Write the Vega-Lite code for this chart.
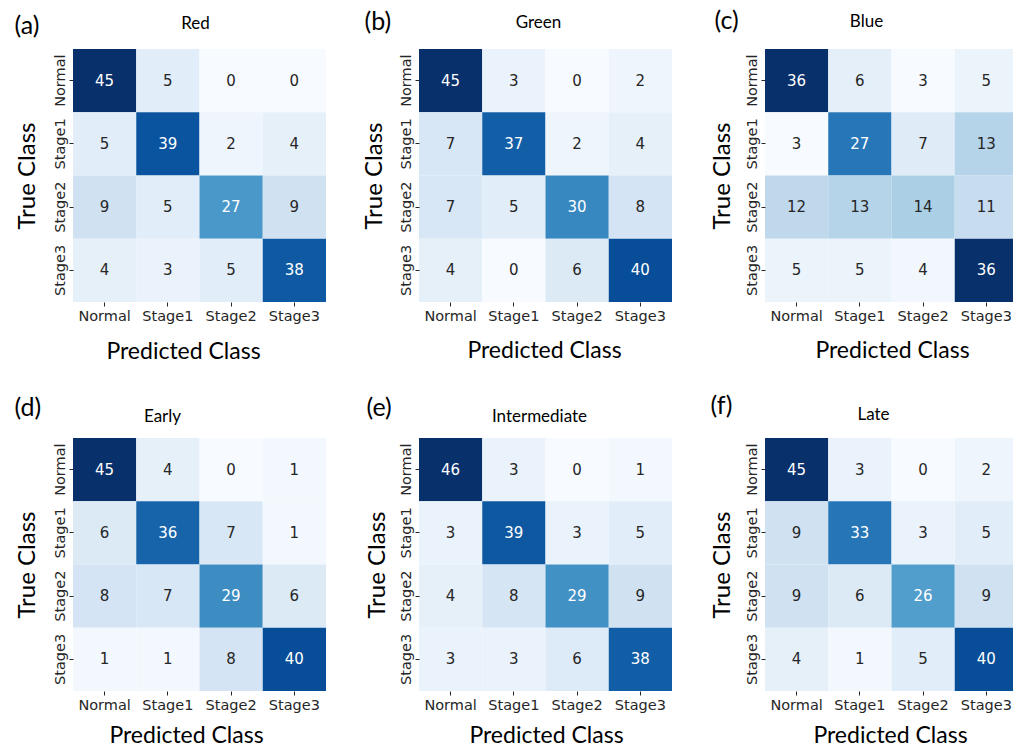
{
  "$schema": "https://vega.github.io/schema/vega-lite/v6.json",
  "background": "white",
  "padding": {"left": 13, "top": 8, "right": 0, "bottom": 0},
  "datasets": {
    "a": [
      {"t":"Normal","pr":"Normal","v":45},{"t":"Normal","pr":"Stage1","v":5},{"t":"Normal","pr":"Stage2","v":0},{"t":"Normal","pr":"Stage3","v":0},
      {"t":"Stage1","pr":"Normal","v":5},{"t":"Stage1","pr":"Stage1","v":39},{"t":"Stage1","pr":"Stage2","v":2},{"t":"Stage1","pr":"Stage3","v":4},
      {"t":"Stage2","pr":"Normal","v":9},{"t":"Stage2","pr":"Stage1","v":5},{"t":"Stage2","pr":"Stage2","v":27},{"t":"Stage2","pr":"Stage3","v":9},
      {"t":"Stage3","pr":"Normal","v":4},{"t":"Stage3","pr":"Stage1","v":3},{"t":"Stage3","pr":"Stage2","v":5},{"t":"Stage3","pr":"Stage3","v":38}
    ],
    "b": [
      {"t":"Normal","pr":"Normal","v":45},{"t":"Normal","pr":"Stage1","v":3},{"t":"Normal","pr":"Stage2","v":0},{"t":"Normal","pr":"Stage3","v":2},
      {"t":"Stage1","pr":"Normal","v":7},{"t":"Stage1","pr":"Stage1","v":37},{"t":"Stage1","pr":"Stage2","v":2},{"t":"Stage1","pr":"Stage3","v":4},
      {"t":"Stage2","pr":"Normal","v":7},{"t":"Stage2","pr":"Stage1","v":5},{"t":"Stage2","pr":"Stage2","v":30},{"t":"Stage2","pr":"Stage3","v":8},
      {"t":"Stage3","pr":"Normal","v":4},{"t":"Stage3","pr":"Stage1","v":0},{"t":"Stage3","pr":"Stage2","v":6},{"t":"Stage3","pr":"Stage3","v":40}
    ],
    "c": [
      {"t":"Normal","pr":"Normal","v":36},{"t":"Normal","pr":"Stage1","v":6},{"t":"Normal","pr":"Stage2","v":3},{"t":"Normal","pr":"Stage3","v":5},
      {"t":"Stage1","pr":"Normal","v":3},{"t":"Stage1","pr":"Stage1","v":27},{"t":"Stage1","pr":"Stage2","v":7},{"t":"Stage1","pr":"Stage3","v":13},
      {"t":"Stage2","pr":"Normal","v":12},{"t":"Stage2","pr":"Stage1","v":13},{"t":"Stage2","pr":"Stage2","v":14},{"t":"Stage2","pr":"Stage3","v":11},
      {"t":"Stage3","pr":"Normal","v":5},{"t":"Stage3","pr":"Stage1","v":5},{"t":"Stage3","pr":"Stage2","v":4},{"t":"Stage3","pr":"Stage3","v":36}
    ],
    "d": [
      {"t":"Normal","pr":"Normal","v":45},{"t":"Normal","pr":"Stage1","v":4},{"t":"Normal","pr":"Stage2","v":0},{"t":"Normal","pr":"Stage3","v":1},
      {"t":"Stage1","pr":"Normal","v":6},{"t":"Stage1","pr":"Stage1","v":36},{"t":"Stage1","pr":"Stage2","v":7},{"t":"Stage1","pr":"Stage3","v":1},
      {"t":"Stage2","pr":"Normal","v":8},{"t":"Stage2","pr":"Stage1","v":7},{"t":"Stage2","pr":"Stage2","v":29},{"t":"Stage2","pr":"Stage3","v":6},
      {"t":"Stage3","pr":"Normal","v":1},{"t":"Stage3","pr":"Stage1","v":1},{"t":"Stage3","pr":"Stage2","v":8},{"t":"Stage3","pr":"Stage3","v":40}
    ],
    "e": [
      {"t":"Normal","pr":"Normal","v":46},{"t":"Normal","pr":"Stage1","v":3},{"t":"Normal","pr":"Stage2","v":0},{"t":"Normal","pr":"Stage3","v":1},
      {"t":"Stage1","pr":"Normal","v":3},{"t":"Stage1","pr":"Stage1","v":39},{"t":"Stage1","pr":"Stage2","v":3},{"t":"Stage1","pr":"Stage3","v":5},
      {"t":"Stage2","pr":"Normal","v":4},{"t":"Stage2","pr":"Stage1","v":8},{"t":"Stage2","pr":"Stage2","v":29},{"t":"Stage2","pr":"Stage3","v":9},
      {"t":"Stage3","pr":"Normal","v":3},{"t":"Stage3","pr":"Stage1","v":3},{"t":"Stage3","pr":"Stage2","v":6},{"t":"Stage3","pr":"Stage3","v":38}
    ],
    "f": [
      {"t":"Normal","pr":"Normal","v":45},{"t":"Normal","pr":"Stage1","v":3},{"t":"Normal","pr":"Stage2","v":0},{"t":"Normal","pr":"Stage3","v":2},
      {"t":"Stage1","pr":"Normal","v":9},{"t":"Stage1","pr":"Stage1","v":33},{"t":"Stage1","pr":"Stage2","v":3},{"t":"Stage1","pr":"Stage3","v":5},
      {"t":"Stage2","pr":"Normal","v":9},{"t":"Stage2","pr":"Stage1","v":6},{"t":"Stage2","pr":"Stage2","v":26},{"t":"Stage2","pr":"Stage3","v":9},
      {"t":"Stage3","pr":"Normal","v":4},{"t":"Stage3","pr":"Stage1","v":1},{"t":"Stage3","pr":"Stage2","v":5},{"t":"Stage3","pr":"Stage3","v":40}
    ]
  },
  "columns": 3,
  "spacing": {"row": 136, "column": 93},
  "bounds": "flush",
  "resolve": {"scale": {"color": "independent"}},
  "concat": [
    {
      "width": 253, "height": 253,
      "data": {"name": "a"},
      "resolve": {"axis": {"x": "independent", "y": "independent"}},
      "layer": [
        {"mark": {"type": "rect"},
         "encoding": {
           "x": {"field": "pr", "type": "nominal", "sort": ["Normal","Stage1","Stage2","Stage3"], "axis": {"title": "Predicted Class", "titleX": 110, "titleY": 56}},
           "y": {"field": "t", "type": "nominal", "sort": ["Normal","Stage1","Stage2","Stage3"], "axis": {"title": "True Class", "titleX": -39, "titleAngle": -90}},
           "color": {"field": "v", "type": "quantitative", "legend": null,
             "scale": {"type": "linear", "interpolate": "rgb", "domain": [0,5.625,11.25,16.875,22.5,28.125,33.75,39.375,45], "range": ["#f7fbff","#deebf7","#c6dbef","#9ecae1","#6baed6","#4292c6","#2171b5","#08519c","#08306b"]}}
         }},
        {"mark": {"type": "text", "font": "DejaVu Sans", "fontSize": 15},
         "encoding": {
           "x": {"field": "pr", "type": "nominal", "sort": ["Normal","Stage1","Stage2","Stage3"], "axis": {"orient": "top", "title": "Red", "titleX": 122, "titleY": -21}},
           "y": {"field": "t", "type": "nominal", "sort": ["Normal","Stage1","Stage2","Stage3"], "axis": {"orient": "left", "title": "(a)", "titleX": -59, "titleY": -16, "titleAngle": 0.01, "titleAlign": "left", "titleBaseline": "alphabetic", "titleFontSize": 25, "labels": false, "ticks": false}},
           "text": {"field": "v", "type": "quantitative"},
           "color": {"condition": {"test": "datum.v > 20", "value": "white"}, "value": "#262626"}
         }}
      ]
    },
    {
      "width": 253, "height": 253,
      "data": {"name": "b"},
      "resolve": {"axis": {"x": "independent", "y": "independent"}},
      "layer": [
        {"mark": {"type": "rect"},
         "encoding": {
           "x": {"field": "pr", "type": "nominal", "sort": ["Normal","Stage1","Stage2","Stage3"], "axis": {"title": "Predicted Class", "titleX": 125, "titleY": 55}},
           "y": {"field": "t", "type": "nominal", "sort": ["Normal","Stage1","Stage2","Stage3"], "axis": {"title": "True Class", "titleX": -38, "titleAngle": -90}},
           "color": {"field": "v", "type": "quantitative", "legend": null,
             "scale": {"type": "linear", "interpolate": "rgb", "domain": [0,5.625,11.25,16.875,22.5,28.125,33.75,39.375,45], "range": ["#f7fbff","#deebf7","#c6dbef","#9ecae1","#6baed6","#4292c6","#2171b5","#08519c","#08306b"]}}
         }},
        {"mark": {"type": "text", "font": "DejaVu Sans", "fontSize": 15},
         "encoding": {
           "x": {"field": "pr", "type": "nominal", "sort": ["Normal","Stage1","Stage2","Stage3"], "axis": {"orient": "top", "title": "Green", "titleX": 119, "titleY": -22}},
           "y": {"field": "t", "type": "nominal", "sort": ["Normal","Stage1","Stage2","Stage3"], "axis": {"orient": "left", "title": "(b)", "titleX": -55, "titleY": -20, "titleAngle": 0.01, "titleAlign": "left", "titleBaseline": "alphabetic", "titleFontSize": 25, "labels": false, "ticks": false}},
           "text": {"field": "v", "type": "quantitative"},
           "color": {"condition": {"test": "datum.v > 20", "value": "white"}, "value": "#262626"}
         }}
      ]
    },
    {
      "width": 253, "height": 253,
      "data": {"name": "c"},
      "resolve": {"axis": {"x": "independent", "y": "independent"}},
      "layer": [
        {"mark": {"type": "rect"},
         "encoding": {
           "x": {"field": "pr", "type": "nominal", "sort": ["Normal","Stage1","Stage2","Stage3"], "axis": {"title": "Predicted Class", "titleX": 127, "titleY": 55}},
           "y": {"field": "t", "type": "nominal", "sort": ["Normal","Stage1","Stage2","Stage3"], "axis": {"title": "True Class", "titleX": -36, "titleAngle": -90}},
           "color": {"field": "v", "type": "quantitative", "legend": null,
             "scale": {"type": "linear", "interpolate": "rgb", "domain": [3,7.125,11.25,15.375,19.5,23.625,27.75,31.875,36], "range": ["#f7fbff","#deebf7","#c6dbef","#9ecae1","#6baed6","#4292c6","#2171b5","#08519c","#08306b"]}}
         }},
        {"mark": {"type": "text", "font": "DejaVu Sans", "fontSize": 15},
         "encoding": {
           "x": {"field": "pr", "type": "nominal", "sort": ["Normal","Stage1","Stage2","Stage3"], "axis": {"orient": "top", "title": "Blue", "titleX": 101, "titleY": -23}},
           "y": {"field": "t", "type": "nominal", "sort": ["Normal","Stage1","Stage2","Stage3"], "axis": {"orient": "left", "title": "(c)", "titleX": -51, "titleY": -21, "titleAngle": 0.01, "titleAlign": "left", "titleBaseline": "alphabetic", "titleFontSize": 25, "labels": false, "ticks": false}},
           "text": {"field": "v", "type": "quantitative"},
           "color": {"condition": {"test": "datum.v > 20", "value": "white"}, "value": "#262626"}
         }}
      ]
    },
    {
      "width": 253, "height": 253,
      "data": {"name": "d"},
      "resolve": {"axis": {"x": "independent", "y": "independent"}},
      "layer": [
        {"mark": {"type": "rect"},
         "encoding": {
           "x": {"field": "pr", "type": "nominal", "sort": ["Normal","Stage1","Stage2","Stage3"], "axis": {"title": "Predicted Class", "titleX": 113, "titleY": 51}},
           "y": {"field": "t", "type": "nominal", "sort": ["Normal","Stage1","Stage2","Stage3"], "axis": {"title": "True Class", "titleX": -39, "titleAngle": -90}},
           "color": {"field": "v", "type": "quantitative", "legend": null,
             "scale": {"type": "linear", "interpolate": "rgb", "domain": [0,5.625,11.25,16.875,22.5,28.125,33.75,39.375,45], "range": ["#f7fbff","#deebf7","#c6dbef","#9ecae1","#6baed6","#4292c6","#2171b5","#08519c","#08306b"]}}
         }},
        {"mark": {"type": "text", "font": "DejaVu Sans", "fontSize": 15},
         "encoding": {
           "x": {"field": "pr", "type": "nominal", "sort": ["Normal","Stage1","Stage2","Stage3"], "axis": {"orient": "top", "title": "Early", "titleX": 89, "titleY": -17}},
           "y": {"field": "t", "type": "nominal", "sort": ["Normal","Stage1","Stage2","Stage3"], "axis": {"orient": "left", "title": "(d)", "titleX": -59, "titleY": -23, "titleAngle": 0.01, "titleAlign": "left", "titleBaseline": "alphabetic", "titleFontSize": 25, "labels": false, "ticks": false}},
           "text": {"field": "v", "type": "quantitative"},
           "color": {"condition": {"test": "datum.v > 20", "value": "white"}, "value": "#262626"}
         }}
      ]
    },
    {
      "width": 253, "height": 253,
      "data": {"name": "e"},
      "resolve": {"axis": {"x": "independent", "y": "independent"}},
      "layer": [
        {"mark": {"type": "rect"},
         "encoding": {
           "x": {"field": "pr", "type": "nominal", "sort": ["Normal","Stage1","Stage2","Stage3"], "axis": {"title": "Predicted Class", "titleX": 127, "titleY": 51}},
           "y": {"field": "t", "type": "nominal", "sort": ["Normal","Stage1","Stage2","Stage3"], "axis": {"title": "True Class", "titleX": -35, "titleAngle": -90}},
           "color": {"field": "v", "type": "quantitative", "legend": null,
             "scale": {"type": "linear", "interpolate": "rgb", "domain": [0,5.75,11.5,17.25,23,28.75,34.5,40.25,46], "range": ["#f7fbff","#deebf7","#c6dbef","#9ecae1","#6baed6","#4292c6","#2171b5","#08519c","#08306b"]}}
         }},
        {"mark": {"type": "text", "font": "DejaVu Sans", "fontSize": 15},
         "encoding": {
           "x": {"field": "pr", "type": "nominal", "sort": ["Normal","Stage1","Stage2","Stage3"], "axis": {"orient": "top", "title": "Intermediate", "titleX": 120, "titleY": -17}},
           "y": {"field": "t", "type": "nominal", "sort": ["Normal","Stage1","Stage2","Stage3"], "axis": {"orient": "left", "title": "(e)", "titleX": -53, "titleY": -23, "titleAngle": 0.01, "titleAlign": "left", "titleBaseline": "alphabetic", "titleFontSize": 25, "labels": false, "ticks": false}},
           "text": {"field": "v", "type": "quantitative"},
           "color": {"condition": {"test": "datum.v > 20", "value": "white"}, "value": "#262626"}
         }}
      ]
    },
    {
      "width": 253, "height": 253,
      "data": {"name": "f"},
      "resolve": {"axis": {"x": "independent", "y": "independent"}},
      "layer": [
        {"mark": {"type": "rect"},
         "encoding": {
           "x": {"field": "pr", "type": "nominal", "sort": ["Normal","Stage1","Stage2","Stage3"], "axis": {"title": "Predicted Class", "titleX": 125, "titleY": 51}},
           "y": {"field": "t", "type": "nominal", "sort": ["Normal","Stage1","Stage2","Stage3"], "axis": {"title": "True Class", "titleX": -36, "titleAngle": -90}},
           "color": {"field": "v", "type": "quantitative", "legend": null,
             "scale": {"type": "linear", "interpolate": "rgb", "domain": [0,5.625,11.25,16.875,22.5,28.125,33.75,39.375,45], "range": ["#f7fbff","#deebf7","#c6dbef","#9ecae1","#6baed6","#4292c6","#2171b5","#08519c","#08306b"]}}
         }},
        {"mark": {"type": "text", "font": "DejaVu Sans", "fontSize": 15},
         "encoding": {
           "x": {"field": "pr", "type": "nominal", "sort": ["Normal","Stage1","Stage2","Stage3"], "axis": {"orient": "top", "title": "Late", "titleX": 108, "titleY": -19}},
           "y": {"field": "t", "type": "nominal", "sort": ["Normal","Stage1","Stage2","Stage3"], "axis": {"orient": "left", "title": "(f)", "titleX": -55, "titleY": -25, "titleAngle": 0.01, "titleAlign": "left", "titleBaseline": "alphabetic", "titleFontSize": 25, "labels": false, "ticks": false}},
           "text": {"field": "v", "type": "quantitative"},
           "color": {"condition": {"test": "datum.v > 20", "value": "white"}, "value": "#262626"}
         }}
      ]
    }
  ],
  "config": {
    "view": {"stroke": null},
    "axis": {"domain": false, "grid": false, "labelFont": "DejaVu Sans", "labelFontSize": 14.5, "labelColor": "#262626", "tickColor": "#262626", "tickSize": 4, "titleFont": "Lato", "titleFontWeight": "normal", "titleColor": "black"},
    "axisBottom": {"labelAngle": 0, "labelPadding": 3, "titleFontSize": 23, "titleAlign": "center", "titleBaseline": "alphabetic"},
    "axisLeft": {"labelAngle": -90, "labelAlign": "center", "labelBaseline": "bottom", "labelPadding": 2, "titleFontSize": 24, "titleAlign": "center", "titleBaseline": "alphabetic"},
    "axisTop": {"labels": false, "ticks": false, "titleFontSize": 17, "titleAlign": "center", "titleBaseline": "alphabetic"}
  }
}
